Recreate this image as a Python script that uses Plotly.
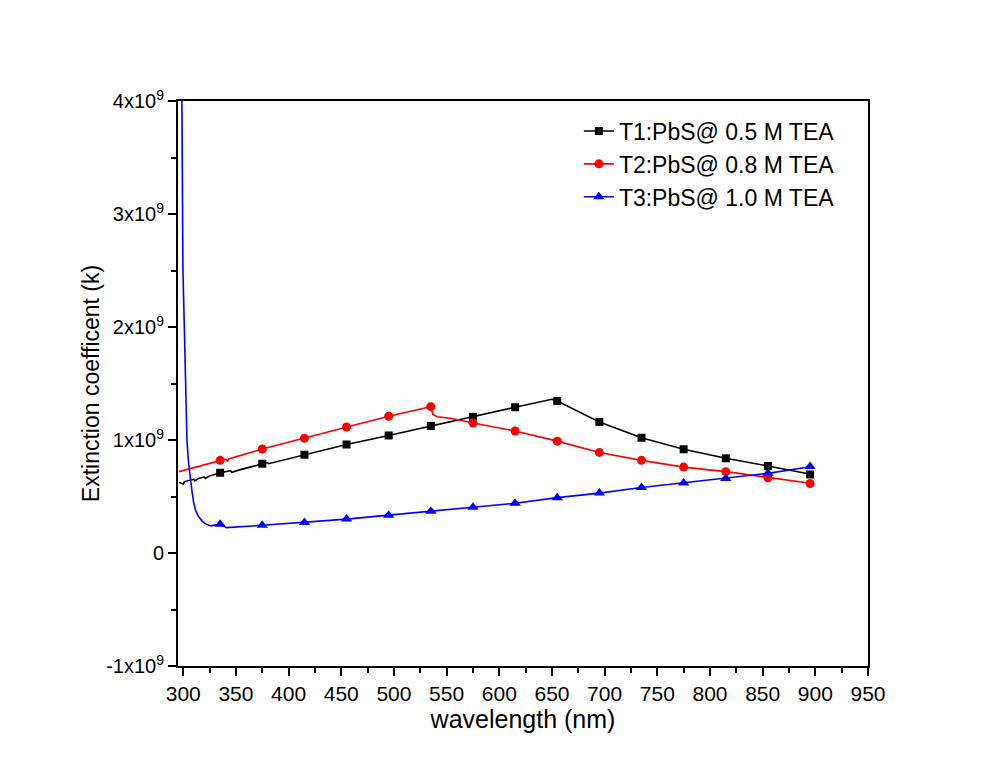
import plotly.graph_objects as go

# ---------------- data ----------------
t1_x = [296, 300, 301, 305, 310, 311, 315, 320, 321, 325, 335, 345, 346, 355, 375, 380, 381,
        415, 455, 495, 535, 575, 615, 650, 655, 695, 735, 775, 815, 855, 897]
t1_y = [0.625, 0.61, 0.632, 0.642, 0.652, 0.638, 0.662, 0.672, 0.66, 0.682, 0.71, 0.728, 0.715,
        0.74, 0.79, 0.80, 0.79, 0.87, 0.96, 1.04, 1.125, 1.205, 1.29, 1.36, 1.345, 1.16,
        1.02, 0.918, 0.838, 0.77, 0.695]

t2_x = [296, 335, 340, 342, 343, 375, 415, 455, 495, 535, 537, 541, 555, 575, 615, 655, 695,
        735, 775, 815, 855, 897]
t2_y = [0.72, 0.82, 0.83, 0.815, 0.832, 0.92, 1.015, 1.115, 1.21, 1.295, 1.225, 1.205, 1.19,
        1.15, 1.08, 0.99, 0.89, 0.82, 0.76, 0.72, 0.666, 0.615]

t3_x = [298.3, 298.8, 299.2, 299.7, 301, 302, 303.5, 305, 306.7, 308.5, 310, 312, 314.7, 318,
        321, 326, 335, 341, 375, 415, 455, 495, 535, 575, 615, 655, 695, 735, 775, 815, 855, 897]
t3_y = [4.6, 4.0, 3.3, 2.5, 2.0, 1.5, 1.0, 0.8, 0.646, 0.53, 0.44, 0.37, 0.32, 0.28, 0.26,
        0.24, 0.255, 0.225, 0.245, 0.27, 0.30, 0.335, 0.37, 0.405, 0.44, 0.49, 0.53, 0.58,
        0.62, 0.66, 0.705, 0.765]

marker_x = [335, 375, 415, 455, 495, 535, 575, 615, 655, 695, 735, 775, 815, 855, 895]

names = ["T1:PbS@ 0.5 M TEA", "T2:PbS@ 0.8 M TEA", "T3:PbS@ 1.0 M TEA"]
colors = ["#000000", "#ff0000", "#0000ff"]
symbols = ["square", "circle", "triangle-up"]
msizes = [8, 9, 10]

y_tickvals = [-1e9, 0, 1e9, 2e9, 3e9, 4e9]
y_ticktext = ["-1x10<sup>9</sup>", "0", "1x10<sup>9</sup>", "2x10<sup>9</sup>",
              "3x10<sup>9</sup>", "4x10<sup>9</sup>"]
x_tickvals = list(range(300, 951, 50))

SCALE = 1e9
FONT = "Arial, 'Liberation Sans', sans-serif"


def at(xs, ys, xq):
    # value of the read series at a marker position (nearest read point)
    best = min(range(len(xs)), key=lambda i: abs(xs[i] - xq))
    return ys[best]


fig = go.Figure()
series = [(t1_x, t1_y), (t2_x, t2_y), (t3_x, t3_y)]
for i, (xs, ys) in enumerate(series):
    yy = [v * SCALE for v in ys]
    fig.add_trace(go.Scatter(x=xs, y=yy, mode="lines", line=dict(color=colors[i], width=1.6),
                             showlegend=False, legendgroup=f"g{i}", hoverinfo="skip"))
    mx = [m for m in marker_x if xs[0] <= m <= xs[-1]]
    my = [at(xs, ys, m) * SCALE for m in mx]
    fig.add_trace(go.Scatter(x=mx, y=my, mode="markers",
                             marker=dict(color=colors[i], symbol=symbols[i], size=msizes[i]),
                             showlegend=False, legendgroup=f"g{i}"))
    fig.add_trace(go.Scatter(x=[None], y=[None], mode="lines+markers", name=names[i],
                             line=dict(color=colors[i], width=1.6),
                             marker=dict(color=colors[i], symbol=symbols[i], size=msizes[i]),
                             legendgroup=f"g{i}"))

fig.update_layout(
    width=1003, height=781,
    margin=dict(l=178, r=135, t=101, b=115),
    paper_bgcolor="white", plot_bgcolor="white",
    font=dict(family=FONT, size=21, color="black"),
    showlegend=True,
    legend=dict(x=0.581, y=0.985, xanchor="left", yanchor="top",
                font=dict(size=23, family=FONT), bgcolor="rgba(0,0,0,0)",
                tracegroupgap=0, itemwidth=30),
)
fig.update_xaxes(
    range=[295, 950], tickmode="array", tickvals=x_tickvals,
    showline=True, linecolor="black", linewidth=2, mirror=True,
    ticks="outside", ticklen=8, tickwidth=2, tickcolor="black",
    minor=dict(ticks="outside", ticklen=5, tickwidth=2, tickcolor="black",
               tickmode="array", tickvals=[v + 25 for v in x_tickvals[:-1]]),
    showgrid=False, zeroline=False,
    tickfont=dict(size=21),
    title=dict(text="wavelength (nm)", font=dict(size=25), standoff=1),
)
fig.update_yaxes(
    range=[-1e9, 4e9], tickmode="array", tickvals=y_tickvals, ticktext=y_ticktext,
    showline=True, linecolor="black", linewidth=2, mirror=True,
    ticks="outside", ticklen=8, tickwidth=2, tickcolor="black",
    minor=dict(ticks="outside", ticklen=5, tickwidth=2, tickcolor="black",
               tickmode="array", tickvals=[v + 5e8 for v in y_tickvals[:-1]]),
    showgrid=False, zeroline=False,
    tickfont=dict(size=20),
    title=dict(text="Extinction coefficent (k)", font=dict(size=23), standoff=0),
)

fig.write_html("out.html")
